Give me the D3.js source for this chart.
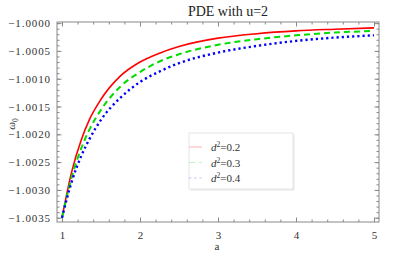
<!DOCTYPE html>
<html lang="en">
<head>
<meta charset="UTF-8">
<title>PDE with u=2</title>
<script src="https://d3js.org/d3.v7.min.js"></script>
<style>
  body { margin: 0; background: #fff; }
  svg text { font-family: "Liberation Serif", "Times New Roman", Times, "DejaVu Serif", serif !important; }
</style>
</head>
<body>
<div id="chart"></div>
<script>
// values (omega_0 against a)
var aVals  = [1, 1.125, 1.25, 1.35, 1.5, 1.75, 2, 2.25, 2.5, 3, 3.5, 4, 4.5, 5];
var omegaD2 = [-1.00350, -1.00267, -1.00209, -1.00174, -1.00137, -1.00095, -1.00070,
               -1.00054, -1.00042, -1.00027, -1.00019, -1.00014, -1.00011, -1.000085];
var omegaD3 = [-1.00350, -1.00277, -1.00224, -1.00192, -1.00156, -1.00114, -1.00088,
               -1.00069, -1.00056, -1.00039, -1.00029, -1.00022, -1.00017, -1.00014];
var omegaD4 = [-1.00350, -1.00285, -1.00238, -1.00209, -1.00174, -1.00134, -1.00106,
               -1.00087, -1.00072, -1.00053, -1.00041, -1.00032, -1.00026, -1.00022];
var seriesNames = ["d2=0.2", "d2=0.3", "d2=0.4"];
var xTicks = [1, 2, 3, 4, 5];
var yTicks = [-1.0000, -1.0005, -1.0010, -1.0015, -1.0020, -1.0025, -1.0030, -1.0035];

var width = 415, height = 260;
var margin = {top: 22, right: 36, bottom: 38, left: 57};
var w = width - margin.left - margin.right,
    h = height - margin.top - margin.bottom;

var svg = d3.select("#chart").append("svg")
    .attr("width", width)
    .attr("height", height);

var g = svg.append("g")
    .attr("transform", "translate(" + margin.left + "," + margin.top + ")");

var x = d3.scaleLinear().domain([0.936, 5.064]).range([0, w]);
var y = d3.scaleLinear().domain([-1.003577, -0.99998]).range([h, 0]);

// frame ticks, Mathematica style (inside, on all four sides)
var xMinor = d3.range(1, 5.001, 0.2);
var yMinor = d3.range(-1.0035, -0.99995, 0.0001);

function frameAxis(axis, transform) {
  var a = g.append("g").attr("transform", transform).call(axis);
  a.attr("font-family", null).attr("font-size", null);
  a.select(".domain").remove();
  a.selectAll("line").attr("stroke", "#888");
  a.selectAll("text").attr("fill", "#333").style("font-size", "11px");
  return a;
}

// minor ticks
frameAxis(d3.axisBottom(x).tickValues(xMinor).tickSize(-2.5).tickFormat(""), "translate(0," + h + ")");
frameAxis(d3.axisTop(x).tickValues(xMinor).tickSize(-2.5).tickFormat(""), "translate(0,0)");
frameAxis(d3.axisLeft(y).tickValues(yMinor).tickSize(-2.5).tickFormat(""), "translate(0,0)");
frameAxis(d3.axisRight(y).tickValues(yMinor).tickSize(-2.5).tickFormat(""), "translate(" + w + ",0)");

// major ticks
frameAxis(d3.axisBottom(x).tickValues(xTicks).tickSize(-4.5).tickPadding(9).tickFormat(d3.format("d")), "translate(0," + h + ")");
frameAxis(d3.axisTop(x).tickValues(xTicks).tickSize(-4.5).tickFormat(""), "translate(0,0)");
frameAxis(d3.axisLeft(y).tickValues(yTicks).tickSize(-4.5).tickPadding(6)
    .tickFormat(function(d) { return "\u2212" + d3.format(".4f")(-d); }), "translate(0,0)")
  .selectAll("text").style("letter-spacing", "0.9px");
frameAxis(d3.axisRight(y).tickValues(yTicks).tickSize(-4.5).tickFormat(""), "translate(" + w + ",0)");

// frame
g.append("rect")
    .attr("x", 0).attr("y", 0)
    .attr("width", w).attr("height", h)
    .attr("fill", "none")
    .attr("stroke", "#888")
    .attr("stroke-width", 1);

// curves
var line = d3.line()
    .x(function(d) { return x(d[0]); })
    .y(function(d) { return y(d[1]); })
    .curve(d3.curveMonotoneX);

var styles = [
  {color: "#ff0000", width: 1.6, dash: null},
  {color: "#00dd00", width: 2, dash: "6,4"},
  {color: "#0000ff", width: 2.4, dash: "2.2,3"}
];
var allSeries = [omegaD2, omegaD3, omegaD4];

allSeries.forEach(function(vals, i) {
  var pts = aVals.map(function(a, j) { return [a, vals[j]]; });
  g.append("path")
      .datum(pts)
      .attr("fill", "none")
      .attr("stroke", styles[i].color)
      .attr("stroke-width", styles[i].width)
      .attr("stroke-dasharray", styles[i].dash)
      .attr("d", line);
});

// legend
var legend = svg.append("g").attr("transform", "translate(189,133)");
legend.append("rect")
    .attr("x", 1.5).attr("y", 1.5)
    .attr("width", 104).attr("height", 56)
    .attr("fill", "#e8e8e8");
legend.append("rect")
    .attr("x", 0).attr("y", 0)
    .attr("width", 104).attr("height", 56)
    .attr("fill", "#fff")
    .attr("stroke", "#e6e6e6")
    .attr("stroke-width", 1);

seriesNames.forEach(function(name, i) {
  var yy = 14 + i * 15.5;
  legend.append("line")
      .attr("x1", 0).attr("x2", 13)
      .attr("y1", yy).attr("y2", yy)
      .attr("stroke", styles[i].color)
      .attr("stroke-opacity", 0.25)
      .attr("stroke-width", 1.2)
      .attr("stroke-dasharray", styles[i].dash);
  var t = legend.append("text")
      .attr("x", 22).attr("y", yy + 4)
      .style("font-size", "11px")
      .attr("fill", "#333");
  t.append("tspan").style("font-style", "italic").text("d");
  t.append("tspan").attr("dy", -4).style("font-size", "7.5px").text("2");
  t.append("tspan").attr("dy", 4).text("=" + name.split("=")[1]);
});

// title
svg.append("text")
    .attr("x", 228).attr("y", 16)
    .attr("text-anchor", "middle")
    .style("font-size", "14px")
    .attr("fill", "#222")
    .text("PDE with u=2");

// axis labels
svg.append("text")
    .attr("x", 217).attr("y", 250)
    .attr("text-anchor", "middle")
    .style("font-size", "11px")
    .attr("fill", "#333")
    .text("a");

var yl = svg.append("text")
    .attr("transform", "translate(15,124) rotate(-90)")
    .attr("text-anchor", "middle")
    .style("font-size", "11px")
    .attr("fill", "#333");
yl.append("tspan").style("font-style", "italic").text("\u03c9");
yl.append("tspan").attr("dy", 3).style("font-size", "7.5px").text("0");
</script>
</body>
</html>
